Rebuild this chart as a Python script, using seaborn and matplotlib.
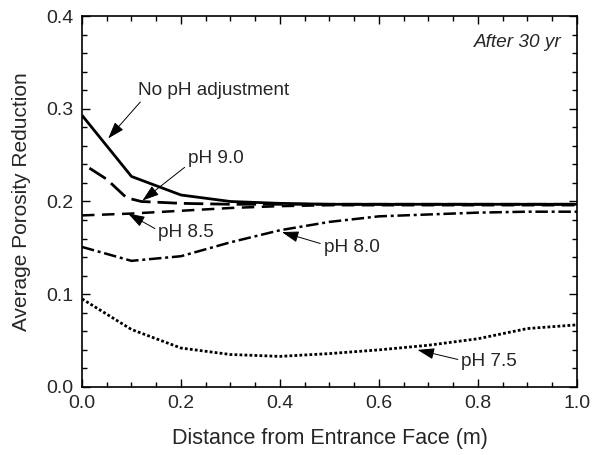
import matplotlib
matplotlib.use("Agg")
import matplotlib.pyplot as plt
from matplotlib.ticker import MultipleLocator, FormatStrFormatter
import pandas as pd
import seaborn as sns

# Distance from entrance face (m) and average porosity reduction after 30 yr
x_no_adj = [0.0, 0.1, 0.2, 0.3, 0.4, 0.5, 0.6, 0.7, 0.8, 0.9, 1.0]
no_adj = [0.293, 0.227, 0.207, 0.200, 0.198, 0.197, 0.197, 0.197, 0.197, 0.197, 0.197]

x_ph90 = [0.015, 0.05, 0.09, 0.12, 0.2, 0.3, 0.4, 0.5, 0.6, 0.7, 0.8, 0.9, 1.0]
ph90 = [0.236, 0.224, 0.204, 0.200, 0.198, 0.197, 0.197, 0.197, 0.197, 0.197, 0.197, 0.197, 0.197]

x_ph85 = [0.0, 0.1, 0.2, 0.3, 0.4, 0.5, 0.6, 0.7, 0.8, 0.9, 1.0]
ph85 = [0.185, 0.187, 0.190, 0.193, 0.195, 0.196, 0.196, 0.196, 0.196, 0.196, 0.196]

x_ph80 = [0.0, 0.1, 0.2, 0.3, 0.4, 0.5, 0.6, 0.7, 0.8, 0.9, 1.0]
ph80 = [0.151, 0.136, 0.141, 0.156, 0.169, 0.178, 0.184, 0.186, 0.188, 0.189, 0.189]

x_ph75 = [0.0, 0.1, 0.2, 0.3, 0.4, 0.5, 0.6, 0.7, 0.8, 0.9, 1.0]
ph75 = [0.095, 0.062, 0.042, 0.035, 0.033, 0.036, 0.040, 0.045, 0.052, 0.063, 0.067]

series = [
    ("No pH adjustment", x_no_adj, no_adj),
    ("pH 9.0", x_ph90, ph90),
    ("pH 8.5", x_ph85, ph85),
    ("pH 8.0", x_ph80, ph80),
    ("pH 7.5", x_ph75, ph75),
]
frames = [pd.DataFrame({"x": xs, "y": ys, "case": name}) for name, xs, ys in series]
df = pd.concat(frames, ignore_index=True)

sns.set_style("ticks")
plt.rcParams["font.family"] = ["Liberation Sans", "DejaVu Sans"]

fig = plt.figure(figsize=(5.92, 4.55), dpi=100)
ax = fig.add_axes([0.1385, 0.1495, 0.836, 0.8153])

styles = {
    "No pH adjustment": dict(dashes=None, lw=2.0),
    "pH 9.0": dict(dashes=(7, 2.5), lw=2.0),
    "pH 8.5": dict(dashes=(5, 3), lw=1.8),
    "pH 8.0": dict(dashes=(5, 1.5, 1.2, 1.5), lw=1.8),
    "pH 7.5": dict(dashes=(1, 0.8), lw=2.0),
}
for name, _, _ in series:
    sub = df[df["case"] == name]
    st = styles[name]
    sns.lineplot(data=sub, x="x", y="y", color="black", linewidth=st["lw"],
                 ax=ax, legend=False, estimator=None, sort=False)
    ln = ax.lines[-1]
    if st["dashes"] is not None:
        ln.set_dashes(st["dashes"])
    ln.set_solid_capstyle("butt")
    ln.set_dash_capstyle("butt")

ax.set_xlim(0, 1.0)
ax.set_ylim(0, 0.4)
ax.xaxis.set_major_locator(MultipleLocator(0.2))
ax.xaxis.set_minor_locator(MultipleLocator(0.05))
ax.yaxis.set_major_locator(MultipleLocator(0.1))
ax.yaxis.set_minor_locator(MultipleLocator(0.02))
ax.xaxis.set_major_formatter(FormatStrFormatter("%.1f"))
ax.yaxis.set_major_formatter(FormatStrFormatter("%.1f"))
ax.tick_params(which="both", direction="in", top=True, right=True,
               labelsize=14, color="black", width=1.0)
ax.tick_params(which="major", length=6, pad=6)
ax.tick_params(which="minor", length=3.5)
for sp in ax.spines.values():
    sp.set_linewidth(1.2)
    sp.set_color("black")

ax.set_xlabel("Distance from Entrance Face (m)", fontsize=15.5, labelpad=11)
ax.set_ylabel("Average Porosity Reduction", fontsize=15, labelpad=11)


def arrow(relpos):
    return dict(arrowstyle="-|>,head_length=0.75,head_width=0.25", color="black",
                lw=0.7, shrinkA=0, shrinkB=0, relpos=relpos)


fs = 13.7
ax.annotate("No pH adjustment", xy=(0.053, 0.268), xytext=(0.113, 0.320),
            fontsize=fs, ha="left", va="center", arrowprops=arrow((0.04, 0.05)))
ax.annotate("pH 9.0", xy=(0.122, 0.201), xytext=(0.214, 0.246),
            fontsize=fs, ha="left", va="center", arrowprops=arrow((0.0, 0.15)))
ax.annotate("pH 8.5", xy=(0.093, 0.187), xytext=(0.154, 0.167),
            fontsize=fs, ha="left", va="center", arrowprops=arrow((0.0, 0.6)))
ax.annotate("pH 8.0", xy=(0.404, 0.167), xytext=(0.488, 0.150),
            fontsize=fs, ha="left", va="center", arrowprops=arrow((0.0, 0.7)))
ax.annotate("pH 7.5", xy=(0.678, 0.040), xytext=(0.766, 0.027),
            fontsize=fs, ha="left", va="center", arrowprops=arrow((0.0, 0.6)))

ax.text(0.97, 0.371, "After 30 yr", fontsize=13.7, style="italic",
        ha="right", va="center")

fig.savefig("out.png", dpi=100)
